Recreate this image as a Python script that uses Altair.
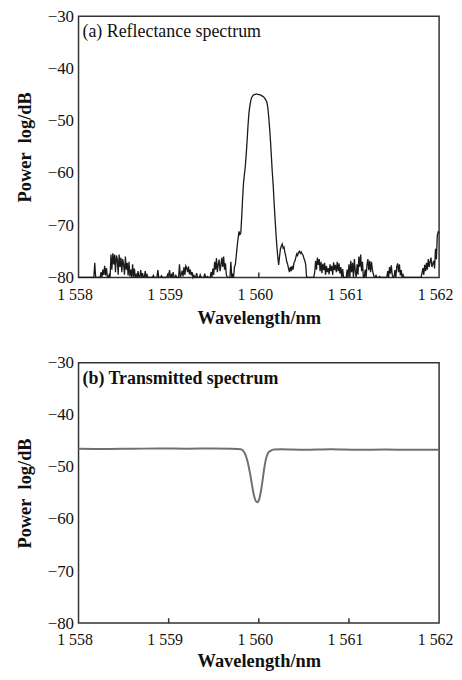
import altair as alt
import pandas as pd
import numpy as np

FONT = "Liberation Serif"
W, H1, H2 = 363, 263, 262

# ---- (a) Reflectance spectrum: power (dB) sampled every 0.01 nm from 1558.00 nm
refl_start = 1558.00
refl_step = 0.01
refl_db = [
    # 1558.00 - 1558.19
    -80, -80, -80, -80, -80, -80, -80, -80, -80, -80, -80, -80, -80, -80, -80, -80, -80, -80, -77.2, -80,
    # 1558.20 - 1558.39
    -80, -80, -80, -80, -80, -79.0, -80, -78.5, -79.5, -77.8, -79.6, -78.2, -80, -80, -79.5, -80, -75.6, -78.5, -75.4, -77.5,
    # 1558.40 - 1558.59
    -75.6, -79.0, -75.8, -76.5, -79.5, -75.6, -78.0, -76.2, -79.0, -76.5, -77.5, -79.5, -76.0, -78.5, -77.2, -79.6, -77.0, -79.8, -78.5, -80,
    # 1558.60 - 1558.79
    -77.5, -80, -78.3, -80, -79.5, -80, -78.8, -80, -80, -78.6, -80, -79.2, -80, -80, -78.8, -80, -79.5, -80, -80, -80,
    # 1558.80 - 1558.99
    -80, -80, -80, -79.6, -80, -80, -80, -80, -78.6, -80, -80, -80, -79.7, -80, -80, -80, -80, -80, -80, -79.3,
    # 1559.00 - 1559.19
    -80, -78.6, -80, -79.5, -80, -79.0, -80, -80, -79.6, -80, -80, -80, -77.5, -80, -79.4, -78.7, -79.8, -78.0, -79.5, -77.8,
    # 1559.20 - 1559.39
    -78.2, -79.0, -77.9, -79.4, -78.5, -79.6, -79.0, -80, -79.6, -80, -80, -79.2, -80, -80, -80, -79.5, -80, -80, -80, -80,
    # 1559.40 - 1559.59
    -79.3, -80, -80, -79.8, -80, -80, -80, -79.0, -80, -78.3, -79.5, -77.0, -78.5, -76.3, -79.0, -77.5, -76.6, -78.8, -77.6, -76.2,
    # 1559.60 - 1559.79
    -78.0, -76.0, -78.5, -77.3, -79.5, -80, -80, -80, -80, -77.0, -80, -79.5, -80, -78.0, -77.5, -75.8, -74.0, -72.5, -71.2, -71.8,
    # 1559.80 - 1559.99
    -71.5, -68.5, -65.0, -62.0, -60.3, -58.8, -56.5, -53.9, -51.0, -48.6, -47.2, -46.2, -45.6, -45.3, -45.1, -45.0, -44.95, -44.9, -44.9, -44.95,
    # 1560.00 - 1560.19
    -45.0, -45.0, -45.1, -45.2, -45.3, -45.4, -45.6, -45.8, -46.1, -46.5, -47.5, -49.3, -51.5, -54.0, -57.0, -60.0, -62.5, -65.8, -68.7, -71.5,
    # 1560.20 - 1560.39
    -74.0, -76.0, -77.6, -76.0, -74.5, -74.0, -73.6, -74.4, -74.2, -75.3, -76.0, -77.0, -77.5, -78.3, -79.0, -78.0, -78.8, -77.8, -78.5, -77.2,
    # 1560.40 - 1560.59
    -76.9, -76.2, -75.5, -75.8, -75.2, -75.0, -75.4, -75.1, -75.5, -75.7, -76.3, -76.8, -77.5, -80, -80, -80, -80, -80, -80, -80,
    # 1560.60 - 1560.79
    -80, -80, -79.0, -76.8, -78.5, -76.2, -77.6, -76.5, -78.8, -77.0, -79.2, -77.4, -78.6, -77.2, -79.5, -77.8, -79.0, -78.2, -79.4, -77.5,
    # 1560.80 - 1560.99
    -78.8, -77.8, -79.5, -77.1, -78.6, -77.6, -79.0, -77.0, -78.8, -77.3, -79.3, -78.0, -80, -78.4, -80, -80, -80, -80, -78.5, -80,
    # 1561.00 - 1561.19
    -77.5, -80, -76.8, -79.0, -77.2, -80, -76.5, -78.8, -80, -77.5, -79.5, -76.0, -78.0, -75.6, -78.8, -77.0, -80, -80, -78.5, -80,
    # 1561.20 - 1561.39
    -77.6, -76.5, -78.6, -76.8, -79.0, -77.0, -78.5, -79.3, -80, -80, -79.6, -80, -80, -80, -79.8, -80, -80, -80, -80, -80,
    # 1561.40 - 1561.59
    -80, -80, -80, -78.8, -80, -78.0, -79.3, -77.7, -79.5, -80, -80, -78.6, -80, -78.0, -77.3, -79.0, -77.5, -79.6, -78.6, -80,
    # 1561.60 - 1561.79
    -79.5, -80, -80, -80, -80, -80, -80, -80, -80, -80, -80, -80, -80, -80, -80, -80, -80, -80, -80, -80,
    # 1561.80 - 1561.99
    -80, -79.2, -78.2, -79.5, -77.6, -78.8, -77.2, -78.5, -76.5, -78.0, -77.0, -76.2, -78.0, -77.4, -76.8, -78.3, -74.5, -76.5, -72.0, -71.3,
    # 1562.00
    -71.5,
]
refl_wl = np.round(refl_start + refl_step * np.arange(len(refl_db)), 2)

# ---- (b) Transmitted spectrum
trans_wl = [1558.0, 1558.3, 1558.6, 1558.9, 1559.2, 1559.5, 1559.7, 1559.8, 1559.84, 1559.87,
            1559.9, 1559.92, 1559.94, 1559.96, 1559.98, 1560.0, 1560.02, 1560.04, 1560.06, 1560.08,
            1560.1, 1560.13, 1560.17, 1560.25, 1560.5, 1560.8, 1561.1, 1561.4, 1561.7, 1562.0]
trans_db = [-46.5, -46.55, -46.5, -46.45, -46.5, -46.45, -46.5, -46.6, -47.2, -48.6,
            -51.0, -53.0, -55.0, -56.3, -56.8, -56.4, -55.0, -52.8, -50.3, -48.4,
            -47.4, -46.9, -46.65, -46.6, -46.7, -46.6, -46.7, -46.65, -46.7, -46.7]

x_ticks = [1558, 1559, 1560, 1561, 1562]
inner_ticks = [1559, 1560, 1561]
y_ticks = [-30, -40, -50, -60, -70, -80]

refl = pd.DataFrame({"wl": refl_wl, "db": refl_db})
trans = pd.DataFrame({"wl": trans_wl, "db": trans_db})
ticks_df = pd.DataFrame({"t": inner_ticks})

xscale = alt.Scale(domain=[1558, 1562], nice=False, zero=False)
yscale = alt.Scale(domain=[-80, -30], nice=False, zero=False)

y_axis = alt.Axis(values=y_ticks, title="Power\u00a0 log/dB", grid=False, ticks=False, domain=False,
                  labelPadding=5, titlePadding=13, labelFontSize=17)


def x_axis(tpad):
    return alt.Axis(values=x_ticks, title="Wavelength/nm", grid=False, ticks=False, domain=False,
                    labelExpr="substring(toString(datum.value),0,1) + ' ' + substring(toString(datum.value),1)",
                    labelPadding=9, titlePadding=tpad, labelFlush=False, labelFontSize=16,
                    labelOffset=-4)


def panel(df, label, label_weight, color, width, h, interp, tpad):
    xa = x_axis(tpad)
    line = alt.Chart(df).mark_line(color=color, strokeWidth=width, interpolate=interp).encode(
        x=alt.X("wl:Q", scale=xscale, axis=xa),
        y=alt.Y("db:Q", scale=yscale, axis=y_axis),
    )
    tk = alt.Chart(ticks_df).mark_rule(color="#333333", strokeWidth=1.5).encode(
        x=alt.X("t:Q", scale=xscale, axis=xa),
        y=alt.value(h),
        y2=alt.value(h - 5),
    )
    txt = alt.Chart(pd.DataFrame({"t": [label]})).mark_text(
        align="left", baseline="alphabetic", font=FONT, fontSize=18,
        fontWeight=label_weight, color="#111111"
    ).encode(x=alt.value(4), y=alt.value(21), text="t:N")
    return alt.layer(line, tk, txt).properties(width=W, height=h)


top = panel(refl, "(a) Reflectance spectrum", "normal", "#1a1a1a", 1.3, H1, "linear", 6)
bottom = panel(trans, "(b) Transmitted spectrum", "bold", "#707070", 2, H2, "monotone", 4)

chart = alt.vconcat(top, bottom, spacing=25).properties(
    padding={"left": 6, "top": -4, "right": 0, "bottom": 0}, background="white"
).configure_view(
    stroke="#333333", strokeWidth=1.5
).configure_axis(
    labelFont=FONT, labelColor="#111111",
    titleFont=FONT, titleFontSize=18.5, titleFontWeight="bold", titleColor="#111111",
)

chart.save("out.html", embed_options={"renderer": "svg", "actions": False})
